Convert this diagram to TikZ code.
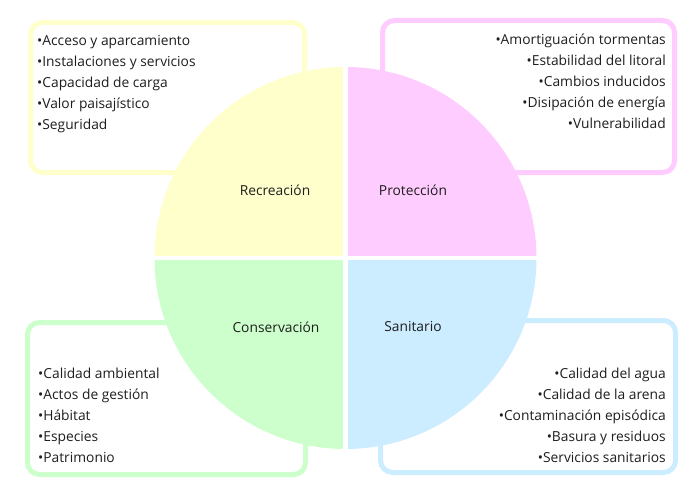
\documentclass[tikz,border=0pt]{standalone}
\usepackage{fontspec}
\setmainfont{Open Sans}
\usetikzlibrary{positioning}
\definecolor{recr}{HTML}{FFFFCC}
\definecolor{prot}{HTML}{FFCCFF}
\definecolor{cons}{HTML}{CCFFCC}
\definecolor{sani}{HTML}{CCECFF}
\definecolor{ink}{HTML}{1E1E1E}
\tikzset{
  framebox/.style={draw=#1,line width=5pt,rounded corners=12pt,fill=white,inner sep=0pt},
  itemlist/.style={font=\fontsize{13.8}{21}\selectfont,text=ink,inner sep=0pt},
  quadlabel/.style={font=\fontsize{13.8}{16}\selectfont,text=ink,inner sep=1pt}
}

\begin{document}
\begin{tikzpicture}[x=1pt,y=-1pt]
\useasboundingbox (0,0) rectangle (696,500);
% frames behind the circle
\node[framebox=recr,minimum width=274pt,minimum height=150pt] (recbox) at (167.5,97.5) {};
\node[framebox=prot,minimum width=292pt,minimum height=152pt] (probox) at (528.5,96.5) {};
\node[framebox=cons,minimum width=278pt,minimum height=152pt] (conbox) at (166.5,398.5) {};
\node[framebox=sani,minimum width=295pt,minimum height=152pt] (sanbox) at (528,396.5) {};
% the four quarters
\coordinate (c) at (345.5,258);
\fill[recr] (c) -- ++(180:191) arc[start angle=180,end angle=270,radius=191] -- cycle;
\fill[prot] (c) -- ++(270:191) arc[start angle=270,end angle=360,radius=191] -- cycle;
\fill[sani] (c) -- ++(0:191) arc[start angle=0,end angle=90,radius=191] -- cycle;
\fill[cons] (c) -- ++(90:191) arc[start angle=90,end angle=180,radius=191] -- cycle;
\draw[white,line width=4.5pt] ([yshift=-195pt]c) -- ([yshift=195pt]c);
\draw[white,line width=4.5pt] ([xshift=-195pt]c) -- ([xshift=195pt]c);
% labels
\node[quadlabel] (reclab) at (275,190) {Recreación};
\node[quadlabel] (prolab) at (413,190) {Protección};
\node[quadlabel] (conlab) at (276,327) {Conservación};
\node[quadlabel] (sanlab) at (413,327) {Sanitario};
% lists
\node[itemlist,align=left,anchor=north west] (reclist) at (37,35)
  {•Acceso y aparcamiento\\ •Instalaciones y servicios\\ •Capacidad de carga\\
   •Valor paisajístico\\ •Seguridad};
\node[itemlist,align=right,anchor=north east] (prolist) at (666,34)
  {•Amortiguación tormentas\\ •Estabilidad del litoral\\ •Cambios inducidos\\
   •Disipación de energía\\ •Vulnerabilidad};
\node[itemlist,align=left,anchor=north west] (conlist) at (38,368)
  {•Calidad ambiental\\ •Actos de gestión\\ •Hábitat\\ •Especies\\ •Patrimonio};
\node[itemlist,align=right,anchor=north east] (sanlist) at (666,368)
  {•Calidad del agua\\ •Calidad de la arena\\ •Contaminación episódica\\
   •Basura y residuos\\ •Servicios sanitarios};
\end{tikzpicture}
\end{document}
